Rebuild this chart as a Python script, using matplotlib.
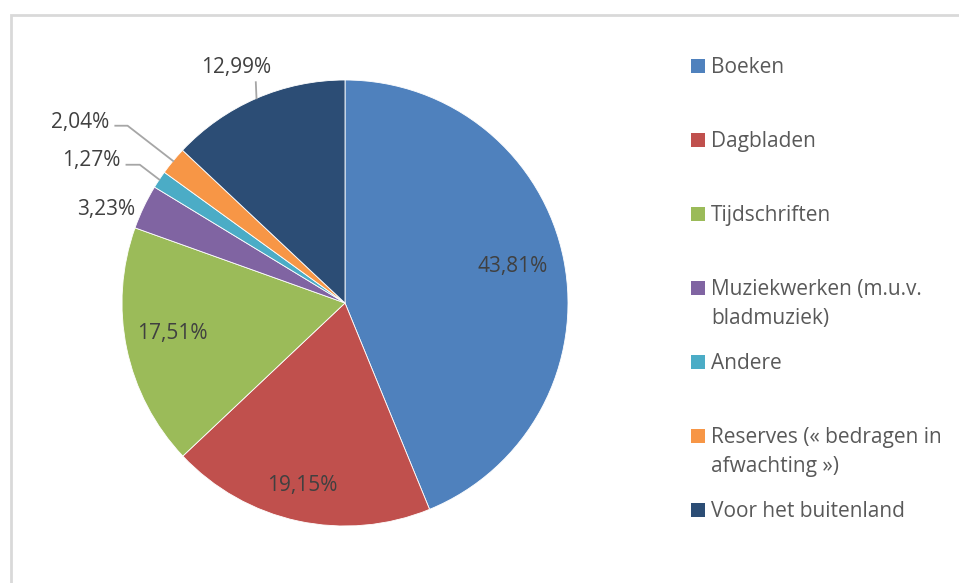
import numpy as np
import matplotlib.pyplot as plt
import matplotlib.patches as patches

plt.rcParams['font.family'] = ['Open Sans', 'DejaVu Sans']

categories = ["Boeken", "Dagbladen", "Tijdschriften", "Muziekwerken (m.u.v.\nbladmuziek)",
              "Andere", "Reserves (« bedragen in\nafwachting »)", "Voor het buitenland"]
shares = [43.81, 19.15, 17.51, 3.23, 1.27, 2.04, 12.99]
colors = ["#4F81BD", "#C0504D", "#9BBB59", "#8064A2", "#4BACC6", "#F79646", "#2C4D75"]

# label positions in pie units (radius = 1)
label_pos = [(0.75, 0.165), (-0.193, -0.82), (-0.776, -0.139), (-1.072, 0.42),
             (-1.139, 0.64), (-1.188, 0.81), (-0.489, 1.054)]
# slices with a leader line: index -> elbow points (pie units)
leaders = {4: [(-0.92, 0.62), (-0.98, 0.62)], 5: [(-0.975, 0.795), (-1.03, 0.795)], 6: [(-0.40, 0.99)]}

W, H = 959, 583
fig = plt.figure(figsize=(W / 100, H / 100), dpi=100)

# frame around the chart area
over = fig.add_axes([0, 0, 1, 1])
over.set_xlim(0, W)
over.set_ylim(H, 0)
over.axis("off")
over.plot([11, 11, W + 5], [H + 5, 15, 15], color="#D9D9D9", lw=2, solid_joinstyle="miter")

# pie
cx, cy, r = 345, 303, 223
ax = fig.add_axes([(cx - r) / W, (H - cy - r) / H, 2 * r / W, 2 * r / H])
wedges, _ = ax.pie(shares, colors=colors, startangle=90, counterclock=False,
                   wedgeprops=dict(edgecolor="white", linewidth=0.6))
ax.set_xlim(-1, 1)
ax.set_ylim(-1, 1)
ax.axis("off")

for i, (w, val) in enumerate(zip(wedges, shares)):
    txt = f"{val:.2f}%".replace(".", ",")
    lx, ly = label_pos[i]
    ax.text(lx, ly, txt, ha="center", va="center", fontsize=15, color="#404040", clip_on=False)
    if i in leaders:
        mid = np.deg2rad((w.theta1 + w.theta2) / 2)
        pts = [(np.cos(mid), np.sin(mid))] + leaders[i]
        xs, ys = zip(*pts)
        ax.plot(xs, ys, color="#A6A6A6", lw=1.3, clip_on=False)

# legend
legend_y = [66, 140, 214, 288, 362, 436, 510]
for name, col, y in zip(categories, colors, legend_y):
    over.add_patch(patches.Rectangle((691, y - 7), 14, 14, facecolor=col, edgecolor="none"))
    for k, line in enumerate(name.split("\n")):
        over.text(711, y + 7 + 29 * k, line, ha="left", va="baseline", fontsize=15,
                  color="#595959")

fig.savefig("out.png", dpi=100)
